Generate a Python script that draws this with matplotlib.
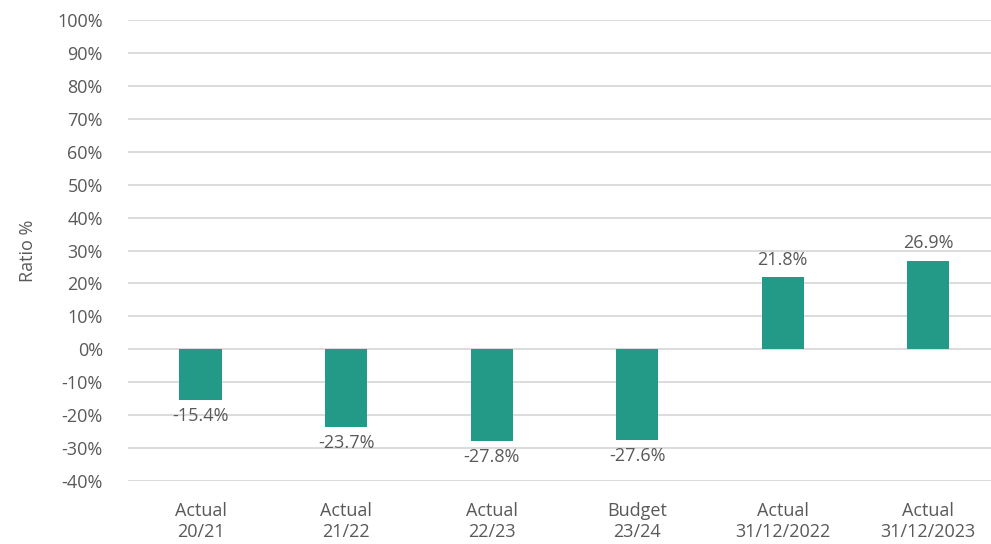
import matplotlib.pyplot as plt

# data
categories = ["Actual\n20/21", "Actual\n21/22", "Actual\n22/23", "Budget\n23/24",
              "Actual\n31/12/2022", "Actual\n31/12/2023"]
ratio = [-15.4, -23.7, -27.8, -27.6, 21.8, 26.9]
yticks = list(range(-40, 101, 10))

plt.rcParams['font.family'] = ['Open Sans', 'DejaVu Sans']
grey = '#595959'

fig = plt.figure(figsize=(9.91, 5.44), dpi=100)
ax = fig.add_axes([0.129, 0.116, 0.881, 0.847])

x = range(len(categories))
ax.bar(x, ratio, width=0.29, color='#229A87', zorder=3)

for i, v in enumerate(ratio):
    if v < 0:
        ax.annotate(f"{v:.1f}%", (i, v), xytext=(0, -5), textcoords='offset points',
                    ha='center', va='top', fontsize=13, color=grey, zorder=4)
    else:
        ax.annotate(f"{v:.1f}%", (i, v), xytext=(0, 6), textcoords='offset points',
                    ha='center', va='bottom', fontsize=13, color=grey, zorder=4)

ax.set_xlim(-0.5, 5.5)
ax.set_ylim(-40, 100)
ax.set_yticks(yticks)
ax.set_yticklabels([f"{t}%" for t in yticks])
ax.set_xticks(list(x))
ax.set_xticklabels(categories, linespacing=1.2)
ax.tick_params(axis='both', length=0, labelsize=13, labelcolor=grey)
ax.tick_params(axis='x', pad=15)
ax.tick_params(axis='y', pad=18)
ax.grid(axis='y', color='#d9d9d9', linewidth=1.3, zorder=0)
for s in ax.spines.values():
    s.set_visible(False)

ax.set_ylabel("Ratio %", fontsize=13, color=grey)
ax.yaxis.set_label_coords(-0.104, 0.5)

fig.savefig("out.png", dpi=100)
